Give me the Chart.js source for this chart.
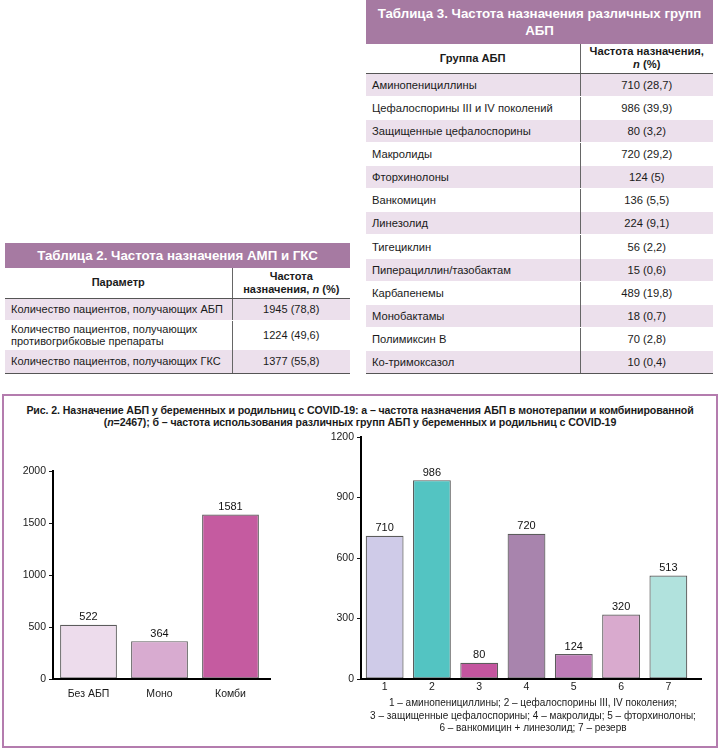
<!DOCTYPE html>
<html>
<head>
<meta charset="utf-8">
<script src="https://cdn.jsdelivr.net/npm/chart.js@4.4.1/dist/chart.umd.min.js"></script>
<style>
body { margin:0; width:720px; height:750px; position:relative; overflow:hidden; background:#fff;
       font-family:"Liberation Sans", Arial, sans-serif; color:#1a1a1a; }
table.t { position:absolute; border-collapse:collapse; table-layout:fixed; font-size:11.2px; }
table.t td { padding:0 6px; vertical-align:middle; }
table.t td.title { background:#a67aa2; color:#fff; font-weight:bold; font-size:13.3px; text-align:center;
                   line-height:17px; padding:0; white-space:nowrap; }
table.t tr.head td { font-weight:bold; text-align:center; line-height:13px; border-bottom:1.5px solid #555; }
table.t td.c2 { text-align:center; border-left:1.5px solid #666; }
table.t tr.odd td { background:#ece0ec; border-top:1px solid #fff; border-bottom:1px solid #fff; }
table.t tr.last td { border-bottom:1.5px solid #555; }
#tab2 { font-size:11px; }
#frame { position:absolute; left:2px; top:394px; width:712px; height:350px; border:2px solid #b47cae; }
#caption { position:absolute; left:6px; top:404px; width:708px; text-align:center; font-weight:bold;
           font-size:10.6px; line-height:12px; letter-spacing:-0.1px; }
#left { position:absolute; left:8px; top:461px; }
#right { position:absolute; left:316px; top:427px; }
#note { position:absolute; left:333px; top:697px; width:400px; text-align:center; font-size:10px; line-height:12.5px; }
</style>
</head>
<body>
<table class="t" id="tab3" style="left:366px; top:0px; width:347px;"></table>
<table class="t" id="tab2" style="left:5px; top:243px; width:345px;"></table>

<div id="frame"></div>
<div id="caption">Рис. 2. Назначение АБП у беременных и родильниц с COVID-19: а – частота назначения АБП в монотерапии и комбинированной<br>(<i>n</i>=2467); б – частота использования различных групп АБП у беременных и родильниц с COVID-19</div>
<canvas id="left" width="265" height="243"></canvas>
<canvas id="right" width="388" height="272"></canvas>
<div id="note">1 – аминопенициллины; 2 – цефалоспорины III, IV поколения;<br>3 – защищенные цефалоспорины; 4 – макролиды; 5 – фторхинолоны;<br>6 – ванкомицин + линезолид; 7 – резерв</div>

<script>
// Таблица 3
const groups = ['Аминопенициллины', 'Цефалоспорины III и IV поколений', 'Защищенные цефалоспорины',
  'Макролиды', 'Фторхинолоны', 'Ванкомицин', 'Линезолид', 'Тигециклин', 'Пиперациллин/тазобактам',
  'Карбапенемы', 'Монобактамы', 'Полимиксин В', 'Ко-тримоксазол'];
const groupFreq = ['710 (28,7)', '986 (39,9)', '80 (3,2)', '720 (29,2)', '124 (5)', '136 (5,5)',
  '224 (9,1)', '56 (2,2)', '15 (0,6)', '489 (19,8)', '18 (0,7)', '70 (2,8)', '10 (0,4)'];

// Таблица 2
const params = ['Количество пациентов, получающих АБП',
  'Количество пациентов, получающих противогрибковые препараты',
  'Количество пациентов, получающих ГКС'];
const paramFreq = ['1945 (78,8)', '1224 (49,6)', '1377 (55,8)'];

// Рис. 2а
const leftCats = ['Без АБП', 'Моно', 'Комби'];
const leftVals = [522, 364, 1581];
const leftColors = ['#eddcec', '#d8abd0', '#c55ba0'];

// Рис. 2б
const rightCats = ['1', '2', '3', '4', '5', '6', '7'];
const rightVals = [710, 986, 80, 720, 124, 320, 513];
const rightColors = ['#cfcbe8', '#53c4c2', '#c4559f', '#a884ad', '#be7cb7', '#d9aace', '#b1e2dd'];

function buildTable(el, title, titleH, head, headH, col1W, names, vals, rowH) {
  let html = '<colgroup><col style="width:' + col1W + 'px"><col></colgroup>';
  html += '<tr><td class="title" colspan="2" style="height:' + titleH + 'px">' + title + '</td></tr>';
  html += '<tr class="head" style="height:' + headH + 'px"><td>' + head[0] + '</td><td class="c2">' + head[1] + '</td></tr>';
  names.forEach(function (n, i) {
    let cls = (i % 2 === 0 ? 'odd' : '') + (i === names.length - 1 ? ' last' : '');
    html += '<tr class="' + cls + '" style="height:' + rowH[i] + 'px"><td>' + n + '</td><td class="c2">' + vals[i] + '</td></tr>';
  });
  el.innerHTML = html;
}

buildTable(document.getElementById('tab3'), 'Таблица 3. Частота назначения различных групп<br>АБП', 44,
  ['Группа АБП', 'Частота назначения,<br><i>n</i> (%)'], 29, 214, groups, groupFreq, groups.map(() => 23.15));
buildTable(document.getElementById('tab2'), 'Таблица 2. Частота назначения АМП и ГКС', 25,
  ['Параметр', 'Частота<br>назначения, <i>n</i> (%)'], 30, 227, params, paramFreq, [22, 29, 24]);

const valueLabels = {
  id: 'valueLabels',
  afterDatasetsDraw(chart) {
    const ctx = chart.ctx;
    const data = chart.data.datasets[0].data;
    chart.getDatasetMeta(0).data.forEach(function (bar, i) {
      ctx.save();
      ctx.font = '11px "Liberation Sans", Arial';
      ctx.fillStyle = '#111';
      ctx.textAlign = 'center';
      ctx.textBaseline = 'bottom';
      ctx.fillText(data[i], bar.x, bar.y - 2);
      ctx.restore();
    });
  },
  afterDraw(chart, args, opts) {
    // ось X чуть длиннее последней категории, как в оригинале
    const a = chart.chartArea, ctx = chart.ctx;
    ctx.save();
    ctx.strokeStyle = '#000';
    ctx.lineWidth = 2;
    ctx.beginPath();
    ctx.moveTo(a.left - 1, a.bottom);
    ctx.lineTo(a.right + opts.ext, a.bottom);
    ctx.stroke();
    ctx.restore();
  }
};

function makeChart(id, cats, vals, colors, yMax, yStep, xPad, xH, ext) {
  return new Chart(document.getElementById(id), {
    type: 'bar',
    data: {
      labels: cats,
      datasets: [{
        data: vals,
        backgroundColor: colors,
        borderColor: '#5c5c5c',
        borderWidth: 1.2,
        borderSkipped: false,
        barPercentage: 0.8,
        categoryPercentage: 1
      }]
    },
    options: {
      responsive: false,
      animation: false,
      layout: { padding: { top: 10, right: id === 'left' ? 7 : 12 } },
      plugins: { legend: { display: false }, tooltip: { enabled: false }, valueLabels: { ext: ext } },
      scales: {
        x: {
          grid: { display: false, drawTicks: false },
          border: { display: false },
          ticks: { color: '#1a1a1a', font: { size: 10.5, family: '"Liberation Sans", Arial' }, padding: xPad },
          afterFit: function (s) { s.height = xH; }
        },
        y: {
          min: 0, max: yMax,
          ticks: { stepSize: yStep, color: '#1a1a1a', font: { size: 10.5, family: '"Liberation Sans", Arial' }, padding: 3,
                   callback: function (v) { return String(v); } },
          grid: { drawOnChartArea: false, drawTicks: true, tickLength: 4, color: '#111', lineWidth: 1 },
          border: { display: true, color: '#000', width: 2 },
          afterFit: function (s) { s.width = 45; }
        }
      }
    },
    plugins: [valueLabels]
  });
}

makeChart('left', leftCats, leftVals, leftColors, 2000, 500, 9, 25, 5);
makeChart('right', rightCats, rightVals, rightColors, 1200, 300, 2, 20, 10);
</script>
</body>
</html>
